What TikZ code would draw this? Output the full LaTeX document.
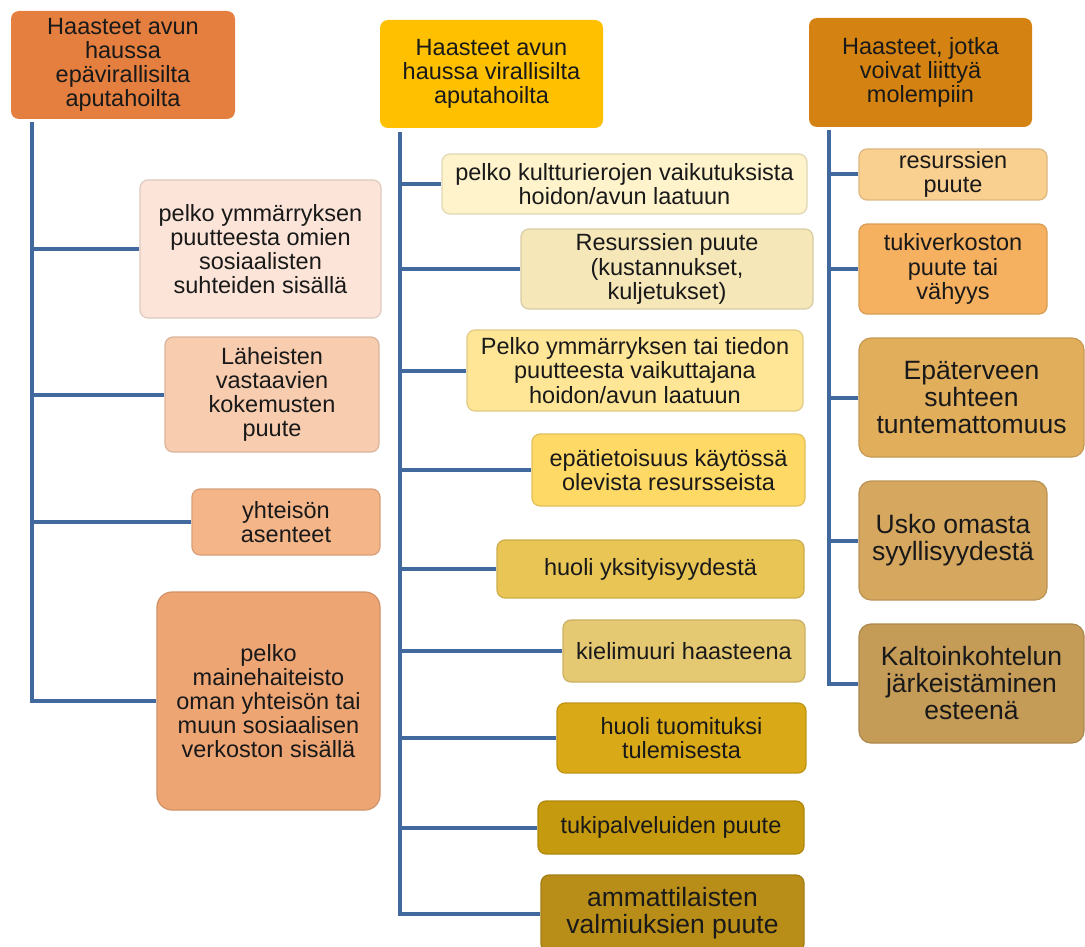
\documentclass[tikz,border=0pt]{standalone}
\usepackage{fontspec}
\setmainfont{Liberation Sans}
\usepackage{tikz}
\usepackage{xcolor}
\definecolor{headone}{HTML}{E47F3F}
\definecolor{headtwo}{HTML}{FFC000}
\definecolor{headthree}{HTML}{D48312}
\definecolor{leftone}{HTML}{FCE5D8}
\definecolor{lefttwo}{HTML}{F8CCAF}
\definecolor{leftthree}{HTML}{F4B589}
\definecolor{leftfour}{HTML}{EDA574}
\definecolor{midone}{HTML}{FFF3CC}
\definecolor{midtwo}{HTML}{F6E7B9}
\definecolor{midthree}{HTML}{FFE697}
\definecolor{midfour}{HTML}{FFD966}
\definecolor{midfive}{HTML}{E9C556}
\definecolor{midsix}{HTML}{E5C872}
\definecolor{midseven}{HTML}{D9A918}
\definecolor{mideight}{HTML}{C69A0E}
\definecolor{midnine}{HTML}{B98E18}
\definecolor{rightone}{HTML}{FAD090}
\definecolor{righttwo}{HTML}{F5B160}
\definecolor{rightthree}{HTML}{E1AE5C}
\definecolor{rightfour}{HTML}{D5A75F}
\definecolor{rightfive}{HTML}{C49B57}
\definecolor{linecol}{HTML}{41699E}

\tikzset{
  headbox/.style = {fill = #1, rectangle, rounded corners = 8pt, align = center, text = black!90, inner sep = 1pt, font = \fontsize{23.5}{24}\selectfont},
  itembox/.style = {fill = #1, draw = #1!88!black, line width = 1.2pt, rectangle, rounded corners = 8pt, align = center, text = black!90, inner sep = 1pt, font = \fontsize{23.5}{24.2}\selectfont},
  bigtext/.style = {rounded corners = 12pt, font = \fontsize{26.5}{27}\selectfont},
  trunk/.style = {draw = linecol, line width = 4pt}
}

\begin{document}
\begin{tikzpicture}

        \useasboundingbox (0pt, 0pt) rectangle (1085pt, -947pt);
        \clip (0pt, 0pt) rectangle (1085pt, -947pt);

        % Headers
        \node [headbox = headone, minimum width = 224pt, minimum height = 108pt] (h1) at (123pt, -65pt) {Haasteet avun\\haussa\\epävirallisilta\\aputahoilta};
        \node [headbox = headtwo, minimum width = 223pt, minimum height = 108pt] (h2) at (491.5pt, -74pt) {Haasteet avun\\haussa virallisilta\\aputahoilta};
        \node [headbox = headthree, minimum width = 223pt, minimum height = 109pt] (h3) at (920.5pt, -72.5pt) {Haasteet, jotka\\voivat liittyä\\molempiin};

        % Left column
        \node [itembox = leftone, minimum width = 241pt, minimum height = 138pt] (l1) at (260.5pt, -249pt) {pelko ymmärryksen\\puutteesta omien\\sosiaalisten\\suhteiden sisällä};
        \node [itembox = lefttwo, minimum width = 214pt, minimum height = 115pt] (l2) at (272pt, -394.5pt) {Läheisten\\vastaavien\\kokemusten\\puute};
        \node [itembox = leftthree, minimum width = 188pt, minimum height = 66pt] (l3) at (286pt, -522pt) {yhteisön\\asenteet};
        \node [itembox = leftfour, rounded corners = 15pt, minimum width = 223pt, minimum height = 218pt] (l4) at (268.5pt, -701pt) {pelko\\mainehaiteisto\\oman yhteisön tai\\muun sosiaalisen\\verkoston sisällä};

        % Middle column
        \node [itembox = midone, minimum width = 365pt, minimum height = 60pt] (m1) at (624.5pt, -184pt) {pelko kultturierojen vaikutuksista\\hoidon/avun laatuun};
        \node [itembox = midtwo, minimum width = 292pt, minimum height = 80pt] (m2) at (667pt, -269pt) {Resurssien puute\\(kustannukset,\\kuljetukset)};
        \node [itembox = midthree, minimum width = 336pt, minimum height = 81pt] (m3) at (635pt, -370.5pt) {Pelko ymmärryksen tai tiedon\\puutteesta vaikuttajana\\hoidon/avun laatuun};
        \node [itembox = midfour, minimum width = 273pt, minimum height = 72pt] (m4) at (668.5pt, -470pt) {epätietoisuus käytössä\\olevista resursseista};
        \node [itembox = midfive, minimum width = 307pt, minimum height = 58pt] (m5) at (650.5pt, -569pt) {huoli yksityisyydestä};
        \node [itembox = midsix, minimum width = 242pt, minimum height = 62pt] (m6) at (684pt, -651pt) {kielimuuri haasteena};
        \node [itembox = midseven, minimum width = 249pt, minimum height = 70pt] (m7) at (681.5pt, -738pt) {huoli tuomituksi\\tulemisesta};
        \node [itembox = mideight, minimum width = 266pt, minimum height = 53pt] (m8) at (671pt, -827.5pt) {tukipalveluiden puute};
        \node [itembox = midnine, bigtext, rounded corners = 8pt, minimum width = 263pt, minimum height = 77pt] (m9) at (672.5pt, -913.5pt) {ammattilaisten\\valmiuksien puute};

        % Right column
        \node [itembox = rightone, minimum width = 188pt, minimum height = 51pt] (r1) at (953pt, -174.5pt) {resurssien\\puute};
        \node [itembox = righttwo, minimum width = 188pt, minimum height = 90pt] (r2) at (953pt, -269pt) {tukiverkoston\\puute tai\\vähyys};
        \node [itembox = rightthree, bigtext, minimum width = 225pt, minimum height = 119pt] (r3) at (971.5pt, -397.5pt) {Epäterveen\\suhteen\\tuntemattomuus};
        \node [itembox = rightfour, bigtext, minimum width = 188pt, minimum height = 119pt] (r4) at (953pt, -540.5pt) {Usko omasta\\syyllisyydestä};
        \node [itembox = rightfive, bigtext, minimum width = 225pt, minimum height = 119pt] (r5) at (971.5pt, -683.5pt) {Kaltoinkohtelun\\järkeistäminen\\esteenä};

        % Trunks
        \coordinate (t1) at (h1.south west -| 32pt, 0pt);
        \coordinate (t2) at (h2.south west -| 400pt, 0pt);
        \coordinate (t3) at (h3.south west -| 829pt, 0pt);
        \draw [trunk] (t1) ++(0pt, -3pt) |- (l4.west);
        \draw [trunk] (t2) ++(0pt, -4pt) |- (m9.west);
        \draw [trunk] (t3) ++(0pt, -3pt) |- (r5.west);

        % Branches
        \foreach \n in {l1, l2, l3}
            \draw [trunk] (\n.west -| t1) -- (\n.west);
        \foreach \n in {m1, m2, m3, m4, m5, m6, m7, m8}
            \draw [trunk] (\n.west -| t2) -- (\n.west);
        \foreach \n in {r1, r2, r3, r4}
            \draw [trunk] (\n.west -| t3) -- (\n.west);

    \end{tikzpicture}
\end{document}
